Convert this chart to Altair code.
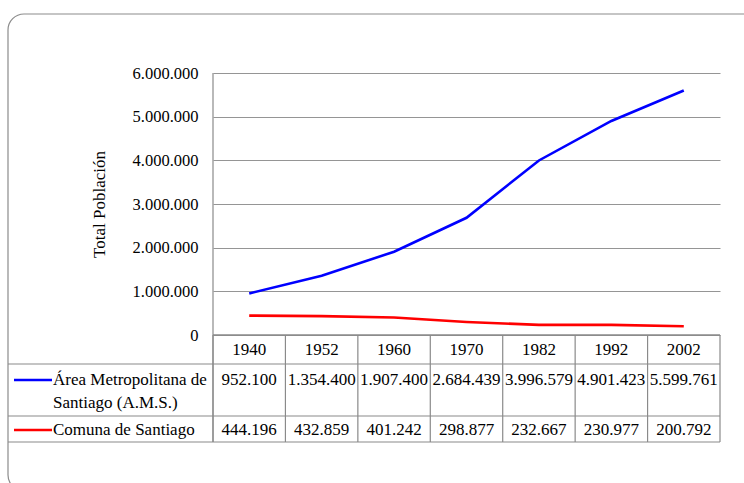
import altair as alt
import pandas as pd

# ---- data ----
years = ["1940", "1952", "1960", "1970", "1982", "1992", "2002"]
ams_values = [952100, 1354400, 1907400, 2684439, 3996579, 4901423, 5599761]
comuna_values = [444196, 432859, 401242, 298877, 232667, 230977, 200792]
series_names = ["Área Metropolitana de Santiago (A.M.S.)", "Comuna de Santiago"]
series_label_lines = [["Área Metropolitana de", "Santiago (A.M.S.)"], ["Comuna de Santiago"]]
series_colors = ["#0000ff", "#ff0000"]
y_ticks = [0, 1000000, 2000000, 3000000, 4000000, 5000000, 6000000]
y_title = "Total Población"

FONT = "Liberation Serif"
FS = 17
FS_TICK = 16.5
TABLE_COLOR = "#8a8a8a"
GRID_COLOR = "#959595"


def fmt(v):
    return f"{v:,}".replace(",", ".")


rows = []
for name, vals in zip(series_names, [ams_values, comuna_values]):
    for yr, v in zip(years, vals):
        rows.append({"year": yr, "series": name, "value": v, "label": fmt(v)})
df = pd.DataFrame(rows)
years_df = pd.DataFrame({"year": years})
one = pd.DataFrame({"k": [0]})

# ---- layout (pixels relative to plot origin) ----
W, H = 507, 262
ROW_TOP = [262, 291, 343, 369]          # table row boundaries
HEADER_Y = 277
SERIES_Y = [[307, 330], [357]]           # text lines per series row
LEFT = -205

xscale = alt.Scale(type="band", domain=years, paddingInner=0, paddingOuter=0)
color = alt.Color("series:N", scale=alt.Scale(domain=series_names, range=series_colors), legend=None)


def xband(pos):
    return alt.X("year:O", scale=xscale, bandPosition=pos, axis=None)


frame = alt.Chart(one).mark_rect(
    fill="white", fillOpacity=0, stroke="#8c8c8c", strokeWidth=1.2, cornerRadius=16
).encode(x=alt.value(LEFT), x2=alt.value(W + 60), y=alt.value(-59), y2=alt.value(418))

lines = alt.Chart(df).mark_line(strokeWidth=2.6).encode(
    x=xband(0.5),
    y=alt.Y(
        "value:Q",
        scale=alt.Scale(domain=[0, 6000000]),
        axis=alt.Axis(
            values=y_ticks,
            labelExpr="replace(format(datum.value, ',d'), /,/g, '.')",
            grid=True,
            gridColor=GRID_COLOR,
            domain=False,
            ticks=False,
            labelFont=FONT,
            labelFontSize=FS_TICK,
            labelColor="black",
            labelPadding=15,
            title=y_title,
            titleFont=FONT,
            titleFontSize=FS,
            titleFontWeight="normal",
            titleColor="black",
            titleAngle=270,
            titleAlign="center",
            titleBaseline="middle",
            titleX=-114,
            titleY=131,
        ),
    ),
    color=color,
)

layers = [frame]

# table borders
layers.append(
    alt.Chart(years_df).mark_rule(color=TABLE_COLOR, strokeWidth=1.2).encode(
        x=xband(0), y=alt.value(ROW_TOP[0]), y2=alt.value(ROW_TOP[-1])
    )
)
layers.append(
    alt.Chart(one).mark_rule(color=TABLE_COLOR, strokeWidth=1.2).encode(
        x=alt.value(0), y=alt.value(0), y2=alt.value(ROW_TOP[-1])
    )
)
layers.append(
    alt.Chart(one).mark_rule(color=TABLE_COLOR, strokeWidth=1.2).encode(
        x=alt.value(W), y=alt.value(ROW_TOP[0]), y2=alt.value(ROW_TOP[-1])
    )
)
for i, yy in enumerate(ROW_TOP):
    x0 = 0 if i == 0 else LEFT
    layers.append(
        alt.Chart(one).mark_rule(color=TABLE_COLOR, strokeWidth=1.5 if i == 0 else 1.2).encode(
            x=alt.value(x0), x2=alt.value(W), y=alt.value(yy)
        )
    )

layers.append(lines)

# header years
layers.append(
    alt.Chart(years_df).mark_text(font=FONT, fontSize=FS, baseline="middle", color="black").encode(
        x=xband(0.5), y=alt.value(HEADER_Y), text="year:N"
    )
)

# series rows
for i, name in enumerate(series_names):
    sub = df[df["series"] == name]
    layers.append(
        alt.Chart(sub).mark_text(font=FONT, fontSize=FS, baseline="middle", color="black").encode(
            x=xband(0.5), y=alt.value(SERIES_Y[i][0]), text="label:N"
        )
    )
    leg = pd.DataFrame({"series": [name]})
    layers.append(
        alt.Chart(leg).mark_rule(strokeWidth=2.6).encode(
            x=alt.value(-199), x2=alt.value(-161), y=alt.value(SERIES_Y[i][0]), color=color
        )
    )
    for j, txt in enumerate(series_label_lines[i]):
        layers.append(
            alt.Chart(pd.DataFrame({"t": [txt]})).mark_text(
                font=FONT, fontSize=FS, baseline="middle", align="left", color="black"
            ).encode(x=alt.value(-160), y=alt.value(SERIES_Y[i][j]), text="t:N")
        )

chart = (
    alt.layer(*layers)
    .properties(
        width=W,
        height=H,
        autosize=alt.AutoSizeParams(type="none"),
        padding={"left": 213, "top": 73, "right": 24, "bottom": 148},
        background="white",
    )
    .configure_view(stroke=None)
)

chart.save("out.html", embed_options={"renderer": "svg", "actions": False})
